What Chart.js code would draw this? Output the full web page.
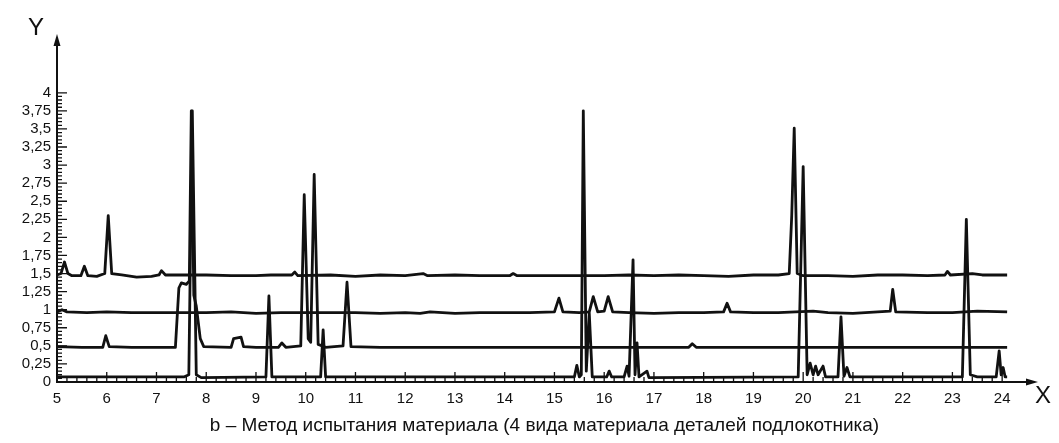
<!DOCTYPE html>
<html>
<head>
<meta charset="utf-8">
<script src="https://cdn.jsdelivr.net/npm/chart.js@4.4.1/dist/chart.umd.min.js"></script>
<style>
  html, body { margin: 0; padding: 0; background: #fff; }
  #wrap { width: 1059px; height: 443px; }
</style>
</head>
<body>
<div id="wrap"><canvas id="specChart"></canvas></div>
<script>
// four traces, [x, y]
var traceTop = [[5.0,1.48],[5.08,1.5],[5.15,1.66],[5.22,1.5],[5.3,1.47],[5.48,1.47],[5.55,1.6],[5.62,1.47],[5.8,1.46],[5.96,1.5],[6.03,2.3],[6.1,1.5],[6.3,1.48],[6.6,1.45],[6.9,1.46],[7.05,1.48],[7.1,1.54],[7.18,1.48],[7.5,1.48],[8.0,1.48],[8.5,1.47],[9.0,1.47],[9.3,1.48],[9.72,1.48],[9.78,1.52],[9.84,1.47],[10.5,1.48],[11.0,1.46],[11.5,1.48],[12.0,1.47],[12.36,1.5],[12.45,1.47],[13.0,1.48],[13.5,1.47],[14.1,1.47],[14.17,1.5],[14.25,1.47],[15.0,1.47],[16.0,1.47],[16.5,1.48],[17.0,1.47],[17.5,1.48],[18.0,1.47],[18.5,1.46],[19.0,1.48],[19.5,1.48],[19.72,1.5],[19.77,2.3],[19.82,3.51],[19.88,1.5],[20.0,1.47],[20.5,1.47],[21.0,1.46],[21.5,1.48],[22.0,1.48],[22.5,1.47],[22.85,1.48],[22.9,1.53],[22.96,1.48],[23.4,1.5],[23.6,1.48],[24.1,1.48]];

var traceUpper = [[5.0,0.97],[5.1,1.0],[5.2,0.97],[5.6,0.96],[6.0,0.97],[6.5,0.96],[7.0,0.96],[7.5,0.96],[8.0,0.96],[8.5,0.97],[9.0,0.95],[9.5,0.96],[10.0,0.96],[10.5,0.96],[11.0,0.96],[11.5,0.95],[12.0,0.96],[12.3,0.95],[12.5,0.97],[13.0,0.95],[13.5,0.96],[14.0,0.96],[14.5,0.96],[15.0,0.97],[15.09,1.16],[15.17,0.97],[15.5,0.96],[15.7,0.97],[15.78,1.18],[15.87,0.97],[16.0,0.98],[16.08,1.18],[16.17,0.97],[16.5,0.96],[17.0,0.95],[17.5,0.96],[18.0,0.96],[18.4,0.97],[18.47,1.09],[18.54,0.97],[19.0,0.96],[19.5,0.96],[20.2,0.98],[20.5,0.96],[21.0,0.95],[21.5,0.97],[21.75,0.98],[21.8,1.28],[21.86,0.97],[22.5,0.96],[23.0,0.96],[23.5,0.98],[24.1,0.97]];

var traceMiddle = [[5.0,0.49],[5.5,0.48],[5.92,0.48],[5.98,0.64],[6.05,0.49],[6.5,0.48],[7.0,0.48],[7.38,0.48],[7.45,1.3],[7.5,1.37],[7.6,1.35],[7.66,1.4],[7.7,3.75],[7.75,1.2],[7.8,1.05],[7.88,0.6],[7.95,0.49],[8.5,0.48],[8.55,0.6],[8.7,0.62],[8.75,0.49],[9.0,0.48],[9.45,0.48],[9.52,0.54],[9.6,0.48],[9.9,0.5],[9.97,2.59],[10.05,0.6],[10.1,0.55],[10.17,2.87],[10.25,0.52],[10.4,0.48],[10.75,0.5],[10.83,1.38],[10.91,0.49],[11.5,0.48],[12.5,0.48],[13.5,0.48],[14.5,0.48],[15.5,0.48],[16.5,0.48],[17.7,0.48],[17.77,0.53],[17.85,0.48],[19.0,0.48],[20.0,0.48],[21.0,0.48],[22.0,0.48],[23.0,0.48],[24.1,0.48]];

var traceBottom = [[5.0,0.07],[7.55,0.07],[7.65,0.1],[7.72,3.75],[7.8,0.1],[7.9,0.06],[9.2,0.07],[9.26,1.19],[9.32,0.07],[10.3,0.07],[10.35,0.72],[10.4,0.07],[15.4,0.07],[15.45,0.23],[15.5,0.07],[15.54,0.1],[15.58,3.75],[15.64,0.15],[15.7,0.95],[15.76,0.07],[16.05,0.07],[16.1,0.15],[16.15,0.07],[16.4,0.07],[16.46,0.22],[16.5,0.08],[16.58,1.69],[16.62,0.1],[16.66,0.54],[16.7,0.07],[16.86,0.15],[16.9,0.06],[19.9,0.07],[20.0,2.98],[20.08,0.1],[20.14,0.26],[20.2,0.1],[20.25,0.22],[20.3,0.1],[20.4,0.22],[20.45,0.07],[20.7,0.07],[20.76,0.9],[20.82,0.08],[20.88,0.2],[20.94,0.07],[23.2,0.07],[23.28,2.25],[23.36,0.1],[23.5,0.07],[23.88,0.07],[23.94,0.43],[23.98,0.1],[24.02,0.2],[24.06,0.07],[24.1,0.07]];

var xTicks = [5,6,7,8,9,10,11,12,13,14,15,16,17,18,19,20,21,22,23,24];
var yTicks = [0,0.25,0.5,0.75,1,1.25,1.5,1.75,2,2.25,2.5,2.75,3,3.25,3.5,3.75,4];
var caption = "b – Метод испытания материала (4 вида материала деталей подлокотника)";

function toPoints(arr) {
    return arr.map(function (p) { return { x: p[0], y: p[1] }; });
}

function trace(data) {
    return {
        data: toPoints(data),
        borderColor: "#111",
        borderWidth: 2.8,
        borderJoinStyle: "round",
        pointRadius: 0,
        tension: 0,
        fill: false
    };
}

// inward ticks, arrows and the X / Y letters
var axisDecor = {
    id: "axisDecor",
    afterDraw: function (chart) {
        var ctx = chart.ctx;
        var xs = chart.scales.x, ys = chart.scales.y;
        var x0 = xs.left, y0 = ys.bottom;
        ctx.save();
        ctx.strokeStyle = "#111";
        ctx.fillStyle = "#111";
        ctx.lineWidth = 1.3;
        ctx.beginPath();
        for (var i = 50; i <= 240; i += 2) {
            var px = xs.getPixelForValue(i / 10);
            var len = (i % 10 === 0) ? 10 : 5;
            ctx.moveTo(px, y0);
            ctx.lineTo(px, y0 - len);
        }
        for (var j = 0; j <= 80; j++) {
            var py = ys.getPixelForValue(j * 0.05);
            var ylen = (j % 5 === 0) ? 10 : 5;
            ctx.moveTo(x0, py);
            ctx.lineTo(x0 + ylen, py);
        }
        ctx.stroke();

        // arrow heads
        ctx.beginPath();
        ctx.moveTo(x0, ys.top - 6);
        ctx.lineTo(x0 - 3.5, ys.top + 6);
        ctx.lineTo(x0 + 3.5, ys.top + 6);
        ctx.closePath();
        ctx.fill();
        ctx.beginPath();
        ctx.moveTo(xs.right + 6, y0);
        ctx.lineTo(xs.right - 6, y0 - 3.5);
        ctx.lineTo(xs.right - 6, y0 + 3.5);
        ctx.closePath();
        ctx.fill();

        ctx.font = "24px 'Liberation Sans', Arial, sans-serif";
        ctx.textAlign = "center";
        ctx.textBaseline = "middle";
        ctx.fillText("Y", 36, 28);
        ctx.fillText("X", 1043, 396);
        ctx.restore();
    }
};

new Chart("specChart", {
    type: "line",
    data: {
        datasets: [trace(traceTop), trace(traceUpper), trace(traceMiddle), trace(traceBottom)]
    },
    options: {
        responsive: true,
        maintainAspectRatio: false,
        animation: false,
        layout: { padding: { top: 40, right: 27, left: 0, bottom: 0 } },
        plugins: {
            legend: { display: false },
            tooltip: { enabled: false }
        },
        scales: {
            x: {
                type: "linear",
                min: 5,
                max: 24.6,
                grid: { display: false, drawTicks: false },
                border: { display: true, color: "#111", width: 2 },
                afterBuildTicks: function (scale) {
                    scale.ticks = xTicks.map(function (v) { return { value: v }; });
                },
                afterFit: function (scale) { scale.height = 61; },
                ticks: {
                    padding: 8,
                    color: "#111",
                    maxRotation: 0,
                    autoSkip: false,
                    font: { family: "'Liberation Sans', Arial, sans-serif", size: 15 }
                },
                title: {
                    display: true,
                    text: caption,
                    color: "#111",
                    padding: { top: 0, bottom: 6 },
                    font: { family: "'Liberation Sans', Arial, sans-serif", size: 19 }
                }
            },
            y: {
                type: "linear",
                min: 0,
                max: 4.73,
                grid: { display: false, drawTicks: false },
                border: { display: true, color: "#111", width: 2 },
                afterBuildTicks: function (scale) {
                    scale.ticks = yTicks.map(function (v) { return { value: v }; });
                },
                afterFit: function (scale) { scale.width = 57; },
                ticks: {
                    padding: 6,
                    color: "#111",
                    autoSkip: false,
                    font: { family: "'Liberation Sans', Arial, sans-serif", size: 15 },
                    callback: function (v) { return String(v).replace(".", ","); }
                }
            }
        }
    },
    plugins: [axisDecor]
});
</script>
</body>
</html>
